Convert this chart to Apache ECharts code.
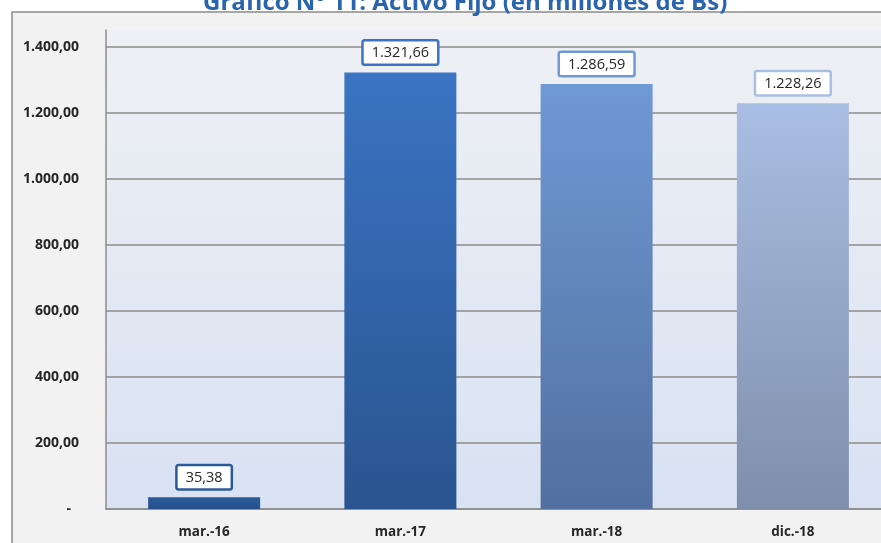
<!DOCTYPE html>
<html>
<head>
<meta charset="utf-8">
<script src="https://cdn.jsdelivr.net/npm/echarts@6/dist/echarts.min.js"></script>
<style>html,body{margin:0;padding:0;background:#fff}#c{width:881px;height:543px}</style>
</head>
<body>
<div id="c"></div>
<script>
const titleText = 'Gráfico N° 11: Activo Fijo (en millones de Bs)';
const categories = ['mar.-16', 'mar.-17', 'mar.-18', 'dic.-18'];
const values = [35.38, 1321.66, 1286.59, 1228.26];
const barTop = ['#2b5a99', '#3a74c3', '#6f99d5', '#a9bee3'];
const barBottom = ['#27508c', '#2a548f', '#52709f', '#7f8fab'];

function fmt(v, dec) {
  const parts = v.toFixed(dec).split('.');
  parts[0] = parts[0].replace(/\B(?=(\d{3})+(?!\d))/g, '.');
  return parts.join(',');
}

const chart = echarts.init(document.getElementById('c'));
const data = values.map((v, i) => ({
  value: v,
  itemStyle: {
    color: {type: 'linear', x: 0, y: 0, x2: 0, y2: 1,
      colorStops: [{offset: 0, color: barTop[i]}, {offset: 1, color: barBottom[i]}]}
  },
  label: {borderColor: barTop[i]}
}));

chart.setOption({
  animation: false,
  backgroundColor: '#ffffff',
  graphic: [{
    type: 'rect', z: -10, silent: true,
    shape: {x: 12, y: 12, width: 900, height: 600},
    style: {fill: '#f2f2f2', stroke: '#8c8c8c', lineWidth: 1.5}
  }],
  title: {
    text: titleText, left: 198, top: -14,
    textStyle: {fontFamily: 'Open Sans', fontWeight: 'bold', fontSize: 24, color: '#2a64ae'}
  },
  grid: {
    left: 106, top: 30, width: 785, height: 479,
    outerBoundsMode: 'none', containLabel: false,
    show: true, borderWidth: 0,
    backgroundColor: {type: 'linear', x: 0, y: 0, x2: 0, y2: 1,
      colorStops: [{offset: 0, color: '#eef0f4'}, {offset: 1, color: '#d9e2f3'}]}
  },
  xAxis: {
    type: 'category', data: categories,
    axisLine: {lineStyle: {color: '#8c8c8c', width: 1.5}},
    axisTick: {show: false},
    axisLabel: {margin: 16, fontFamily: 'Open Sans', fontWeight: 'bold', fontSize: 13.5, color: '#262626'}
  },
  yAxis: {
    type: 'value', min: 0, max: 1450, interval: 200,
    axisLine: {show: true, lineStyle: {color: '#8c8c8c', width: 1.5}},
    axisTick: {show: false},
    splitLine: {lineStyle: {color: ['#8c8c8c','#8c8c8c','#8c8c8c','#8c8c8c','#8c8c8c','#8c8c8c','#8c8c8c','#8c8c8c','rgba(0,0,0,0)'], width: 1.5}},
    axisLabel: {
      margin: 27, fontFamily: 'Open Sans', fontWeight: 'bold', fontSize: 14, color: '#262626',
      formatter: v => v === 0 ? '{d|-}' : (v > 1400 ? '' : fmt(v, 2)),
      rich: {d: {fontFamily: 'Open Sans', fontWeight: 'bold', fontSize: 14, color: '#262626', width: 36, align: 'right', padding: [0, 8, 0, 0]}}
    }
  },
  series: [{
    type: 'bar', data: data, barWidth: 112,
    label: {
      show: true, position: 'top', distance: 9,
      formatter: p => fmt(p.value, 2),
      fontFamily: 'Open Sans', fontSize: 14.5, color: '#262626',
      backgroundColor: '#ffffff', borderWidth: 2.5, borderRadius: 1,
      padding: [4, 8, 3, 8]
    }
  }]
});
</script>
</body>
</html>
